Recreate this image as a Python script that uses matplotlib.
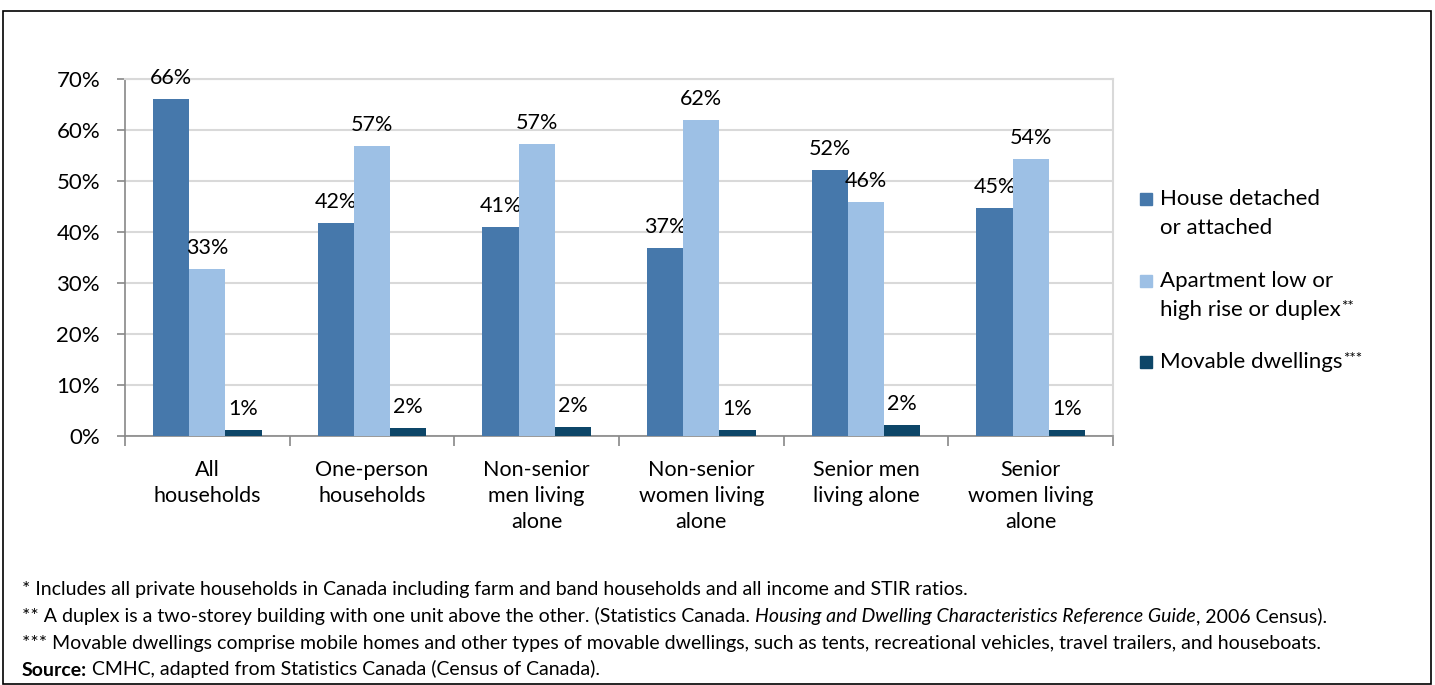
import numpy as np
import matplotlib
matplotlib.use("Agg")
import matplotlib.pyplot as plt
from matplotlib.patches import Rectangle

plt.rcParams['font.family'] = ['Lato', 'DejaVu Sans']

# data (percent of households)
categories = ["All\nhouseholds", "One-person\nhouseholds", "Non-senior\nmen living\nalone",
              "Non-senior\nwomen living\nalone", "Senior men\nliving alone", "Senior\nwomen living\nalone"]
house = [66.1, 41.8, 41.0, 36.9, 52.2, 44.7]
apartment = [32.7, 56.9, 57.3, 62.0, 45.9, 54.3]
movable = [1.2, 1.6, 1.8, 1.2, 2.1, 1.1]

series_lines = [["House detached", "or attached"], ["Apartment low or", "high rise or duplex"],
                ["Movable dwellings"]]
series_marks = ["", "**", "***"]
colors = ["#4678AB", "#9DC0E5", "#0D4668"]

footnotes = [
    [("* Includes all private households in Canada including farm and band households and all income and STIR ratios.", "normal", "normal")],
    [("** A duplex is a two-storey building with one unit above the other. (Statistics Canada. ", "normal", "normal"),
     ("Housing and Dwelling Characteristics Reference Guide", "italic", "normal"),
     (", 2006 Census).", "normal", "normal")],
    [("*** Movable dwellings comprise mobile homes and other types of movable dwellings, such as tents, recreational vehicles, travel trailers, and houseboats.", "normal", "normal")],
    [("Source:", "normal", "bold"), (" CMHC, adapted from Statistics Canada (Census of Canada).", "normal", "normal")],
]

W, H = 1435, 685
fig = plt.figure(figsize=(W / 100, H / 100), dpi=100)
ax = fig.add_axes([125 / W, 1 - 436 / H, (1113 - 125) / W, (436 - 79) / H])

# outer frame
fig.patches.append(Rectangle((3 / W, 1 / H), (1431 - 3) / W, (H - 12) / H, transform=fig.transFigure,
                             fill=False, edgecolor="black", linewidth=1.2))

x = np.arange(len(categories))
bw = 0.22
for i, (vals, c) in enumerate(zip([house, apartment, movable], colors)):
    bars = ax.bar(x + (i - 1) * bw, vals, bw, color=c, zorder=3)
    ax.bar_label(bars, labels=[f"{round(v)}%" for v in vals], padding=8, fontsize=15.5)

ax.set_xlim(-0.5, len(categories) - 0.5)
ax.set_ylim(0, 70)
ax.set_yticks(np.arange(0, 71, 10))
ax.set_yticklabels([f"{t}%" for t in range(0, 71, 10)], fontsize=16)
ax.yaxis.grid(True, color="#D9D9D9", linewidth=1.5, zorder=0)
ax.set_axisbelow(True)

ax.set_xticks(np.arange(-0.5, len(categories) + 0.5, 1))
ax.set_xticklabels([])
ax.set_xticks(x, minor=True)
ax.set_xticklabels(categories, minor=True, fontsize=15.5, linespacing=1.38)
ax.tick_params(axis="x", which="minor", length=0, pad=17)
ax.tick_params(axis="x", which="major", length=7, color="#888888", width=1.2)
ax.tick_params(axis="y", length=6, color="#888888", width=1.2, pad=12)

for s in ["left", "bottom"]:
    ax.spines[s].set_color("#888888")
    ax.spines[s].set_linewidth(1.2)
for s in ["top", "right"]:
    ax.spines[s].set_color("#D9D9D9")
    ax.spines[s].set_linewidth(1.5)

# legend drawn by hand so the swatch sits on the first text line
leg_y = [199, 281, 362]
for lines, mark, c, y in zip(series_lines, series_marks, colors, leg_y):
    fig.patches.append(Rectangle((1140 / W, 1 - (y + 6) / H), 12 / W, 12 / H,
                                 transform=fig.transFigure, color=c))
    t = None
    for k, line in enumerate(lines):
        t = fig.text(1160 / W, 1 - (y + 29 * k) / H, line, fontsize=16, va="center", ha="left")
    if mark:
        ax.annotate(mark, xy=(1, 1), xycoords=t, xytext=(0.5, 0), textcoords="offset points",
                    va="top", ha="left", fontsize=11, annotation_clip=False)

# footnotes, pieces joined end to end
foot_y = [589, 616, 643, 670]
for parts, y in zip(footnotes, foot_y):
    prev = None
    for txt, style, weight in parts:
        if prev is None:
            prev = fig.text(22 / W, 1 - y / H, txt, fontsize=14, va="center", ha="left",
                            style=style, weight=weight)
        else:
            prev = ax.annotate(txt, xy=(1, 0), xycoords=prev, va="bottom", ha="left", fontsize=14,
                               style=style, weight=weight, annotation_clip=False)

fig.savefig("out.png", dpi=100)
